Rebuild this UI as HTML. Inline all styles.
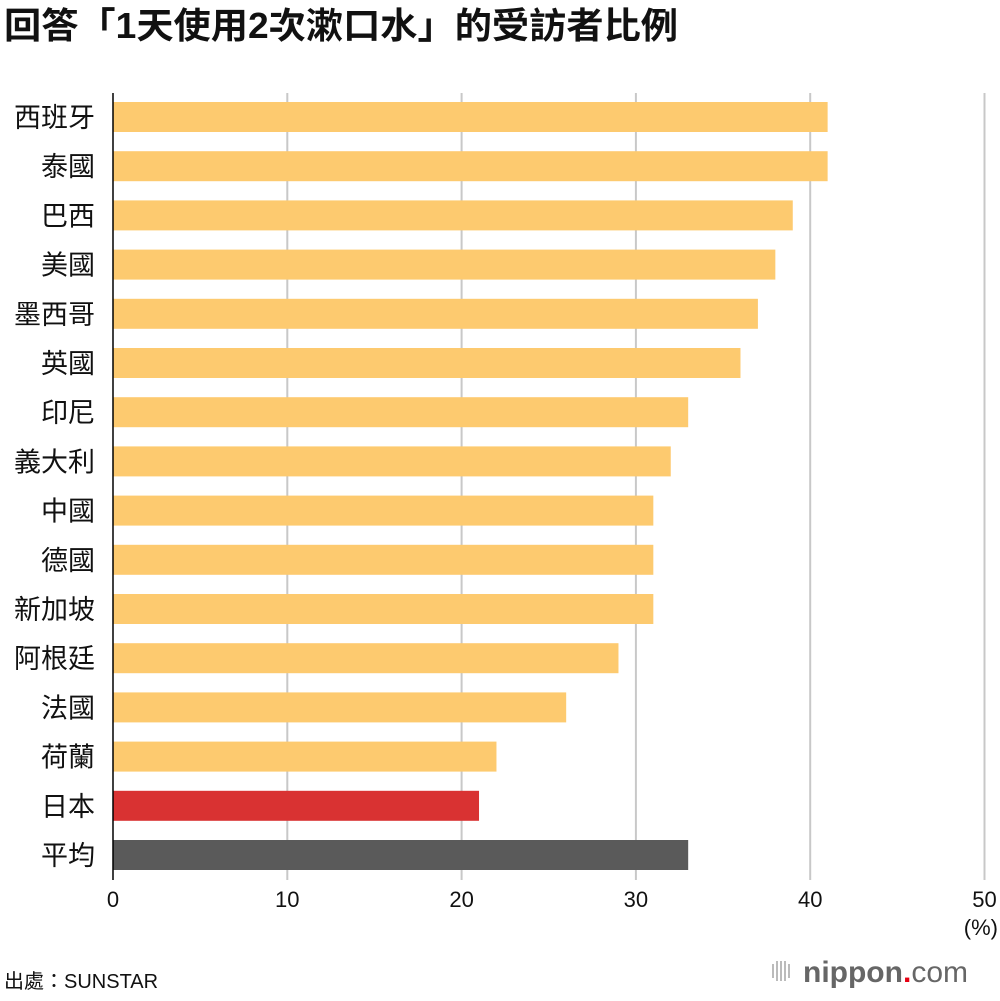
<!DOCTYPE html>
<html><head><meta charset="utf-8">
<style>
body{margin:0;background:#fff;width:1000px;height:996px;overflow:hidden;font-family:"Liberation Sans","Noto Sans CJK TC",sans-serif;}
svg text{font-family:"Liberation Sans","Noto Sans CJK TC",sans-serif;}
</style></head>
<body>
<svg width="1000" height="996">
<text x="4" y="38" font-size="36" font-weight="bold" fill="#111" textLength="674" lengthAdjust="spacingAndGlyphs">回答「1天使用2次漱口水」的受訪者比例</text>
<g id="grid"></g>
<g id="bars"></g>
<g id="labels"></g>
<g id="ticks"></g>
<line x1="113" y1="93" x2="113" y2="880" stroke="#000" stroke-width="1.5"/>
<text x="998" y="935" font-size="22" text-anchor="end" fill="#111">(%)</text>
<text x="4" y="988" font-size="20" fill="#111">出處：SUNSTAR</text>
<g>
<rect x="772" y="964" width="2" height="14" fill="#bbb"/><rect x="776" y="961" width="2" height="20" fill="#bbb"/><rect x="780" y="961" width="2" height="20" fill="#bbb"/><rect x="784" y="961" width="2" height="20" fill="#bbb"/><rect x="788" y="964" width="2" height="14" fill="#bbb"/>
<text x="803" y="982" font-size="30" font-weight="bold" fill="#666">nippon<tspan fill="#e60012">.</tspan><tspan font-weight="normal">com</tspan></text>
</g>
</svg>
<script>
const categories=["西班牙","泰國","巴西","美國","墨西哥","英國","印尼","義大利","中國","德國","新加坡","阿根廷","法國","荷蘭","日本","平均"];
const values=[41,41,39,38,37,36,33,32,31,31,31,29,26,22,21,33];
const tickValues=[0,10,20,30,40,50];
const NS="http://www.w3.org/2000/svg";
const x0=113,xScale=(984.5-113)/50;
function xPos(v){return x0+v*xScale;}
function yCenter(i){return 117+i*49.2;}
function mk(tag,attrs,parent){const e=document.createElementNS(NS,tag);for(const k in attrs)e.setAttribute(k,attrs[k]);parent.appendChild(e);return e;}
const grid=document.getElementById('grid'),bars=document.getElementById('bars'),labels=document.getElementById('labels'),ticks=document.getElementById('ticks');
tickValues.forEach(t=>{
  if(t>0){const l=mk('line',{x1:xPos(t),x2:xPos(t),y1:93,y2:880,stroke:'#c8c8c8','stroke-width':2},grid);
  
  }
  const tx=mk('text',{x:xPos(t),y:907,'font-size':22,'text-anchor':'middle',fill:'#111'},ticks);
  tx.textContent=t;
  
  
});
categories.forEach((c,i)=>{
  const col=i===categories.length-1?'#5a5a5a':(c==='日本'?'#d93232':'#fdca6f');
  const r=mk('rect',{x:x0,y:yCenter(i)-15,width:xPos(values[i])-x0,height:30,fill:col},bars);
  
  
  const t=mk('text',{x:95,y:yCenter(i)+10,'font-size':27,'text-anchor':'end',fill:'#111'},labels);
  t.textContent=c;
  
  
});
</script>
</body></html>
